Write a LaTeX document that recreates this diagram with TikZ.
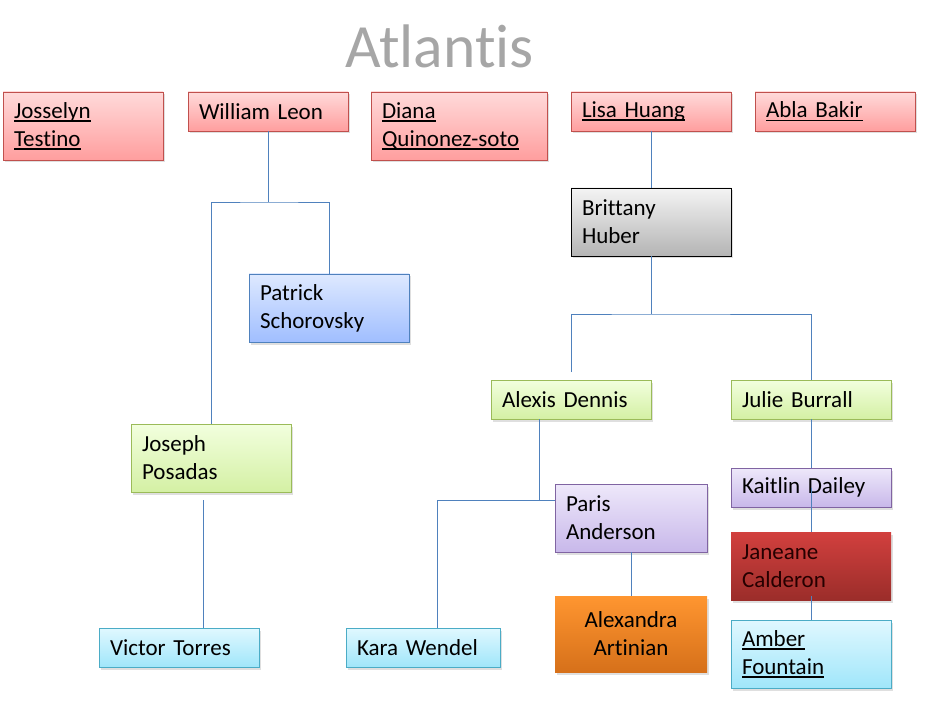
\documentclass[tikz,border=0pt]{standalone}
\usepackage{fontspec}
\setmainfont{Carlito}[Ligatures=NoCommon, WordSpace={0.6,0,0}]
\usetikzlibrary{shadows}

\definecolor{linkblue}{RGB}{79,129,189}
\definecolor{titlegray}{RGB}{166,166,166}
\definecolor{redline}{RGB}{192,80,77}
\definecolor{redtop}{RGB}{255,218,218}
\definecolor{redbot}{RGB}{255,158,158}
\definecolor{graytop}{RGB}{244,244,244}
\definecolor{graybot}{RGB}{180,180,180}
\definecolor{bluetop}{RGB}{222,233,255}
\definecolor{bluebot}{RGB}{160,190,255}
\definecolor{greenline}{RGB}{155,187,89}
\definecolor{greentop}{RGB}{242,255,222}
\definecolor{greenbot}{RGB}{212,240,164}
\definecolor{cyanline}{RGB}{75,172,198}
\definecolor{cyantop}{RGB}{224,248,255}
\definecolor{cyanbot}{RGB}{160,230,250}
\definecolor{purpleline}{RGB}{128,100,162}
\definecolor{purpletop}{RGB}{238,232,250}
\definecolor{purplebot}{RGB}{200,184,234}
\definecolor{darkredtop}{RGB}{210,64,62}
\definecolor{darkredbot}{RGB}{155,45,42}
\definecolor{orangetop}{RGB}{255,150,48}
\definecolor{orangebot}{RGB}{214,112,26}

% underlined link text
\newcommand{\linkname}[1]{\leavevmode\setbox0=\hbox{#1}\rlap{\rule[-3.5pt]{\wd0}{1.5pt}}\box0}

\begin{document}
\begin{tikzpicture}[x=1pt,y=-1pt,
    box/.style={draw, rectangle, line width=0.8pt, inner xsep=11pt, inner ysep=2pt,
        minimum width=160pt, text width=138pt, minimum height=39pt, align=left,
        font=\fontsize{23}{28}\selectfont,
        drop shadow={shadow xshift=1.5pt, shadow yshift=-2.5pt, opacity=.25}},
    tall/.style={minimum height=68pt},
    redbox/.style={box, draw=redline, top color=redtop, bottom color=redbot},
    graybox/.style={box, draw=black, top color=graytop, bottom color=graybot},
    bluebox/.style={box, draw=linkblue, top color=bluetop, bottom color=bluebot},
    greenbox/.style={box, draw=greenline, top color=greentop, bottom color=greenbot},
    cyanbox/.style={box, draw=cyanline, top color=cyantop, bottom color=cyanbot},
    purplebox/.style={box, draw=purpleline, top color=purpletop, bottom color=purplebot},
    link/.style={draw=linkblue, line width=0.8pt}]

    \useasboundingbox (0,0) rectangle (927,714);

    % title
    \node[anchor=base, text=titlegray, font=\fontsize{61.5}{64}\selectfont] (title) at (439.5,68) {Atlantis};

    % top row
    \node[redbox, tall] (josselyn) at (83,126) {\linkname{Josselyn}\\\linkname{Testino}};
    \node[redbox] (william) at (268,111.5) {William Leon};
    \node[redbox, tall, minimum width=176pt, text width=154pt] (diana) at (459,126) {\linkname{Diana}\\\linkname{Quinonez-soto}};
    \node[redbox] (lisa) at (651,111.5) {\linkname{Lisa Huang}};
    \node[redbox] (abla) at (835,111.5) {\linkname{Abla Bakir}};

    % left branch
    \node[bluebox, tall] (patrick) at (329,308) {Patrick\\Schorovsky};
    \node[greenbox, tall] (joseph) at (211,458) {Joseph\\Posadas};
    \node[cyanbox] (victor) at (179,647.5) {Victor Torres};

    % right branch
    \node[graybox, tall] (brittany) at (651,222) {Brittany\\Huber};
    \node[greenbox] (alexis) at (571,399.5) {Alexis Dennis};
    \node[greenbox] (julie) at (811,399.5) {Julie Burrall};
    \node[purplebox, tall, minimum width=152pt, text width=130pt] (paris) at (631,518) {Paris\\Anderson};
    \node[cyanbox, minimum width=154pt, text width=132pt] (kara) at (423,647.5) {Kara Wendel};
    \node[box, draw=none, tall, minimum height=76pt, minimum width=152pt, text width=130pt, align=center,
        top color=orangetop, bottom color=orangebot] (alexandra) at (631,634) {Alexandra\\Artinian};
    \node[purplebox] (kaitlin) at (811,487.5) {Kaitlin Dailey};
    \node[box, draw=none, tall, top color=darkredtop, bottom color=darkredbot,
        text=black!85!red] (janeane) at (811,566) {Janeane\\Calderon};
    \node[cyanbox, tall] (amber) at (811,654) {\linkname{Amber}\\\linkname{Fountain}};

    % forks and loose ends
    \coordinate (wlfork) at (268,202);
    \coordinate (jptail) at (203,500);
    \coordinate (bhfork) at (651,314);
    \coordinate (adtop) at (571,372);
    \coordinate (adfork) at (539,500);
    \coordinate (karafork) at (437,500);

    % William Leon
    \draw[link] (william.south) -- (wlfork);
    \draw[link] (joseph.north) |- (wlfork) -| (patrick.north);
    \draw[link] (jptail) -- (jptail |- victor.north);

    % Lisa Huang
    \draw[link] (lisa.south) -- (brittany.north);
    \draw[link] (brittany.south) -- (bhfork);
    \draw[link] (adtop) |- (bhfork) -| (julie.north);

    % Alexis Dennis
    \draw[link] (alexis.south -| adfork) -- (adfork);
    \draw[link] (kara.north -| karafork) -- (karafork) -- (paris.west |- adfork);
    \draw[link] (paris.south) -- (alexandra.north);

    % Julie Burrall
    \draw[link] (julie.south) -- (kaitlin.north);
    \draw[link] (kaitlin.center) -- (janeane.north);
    \draw[link] ([yshift=4pt]janeane.south) -- (amber.north);
\end{tikzpicture}
\end{document}
